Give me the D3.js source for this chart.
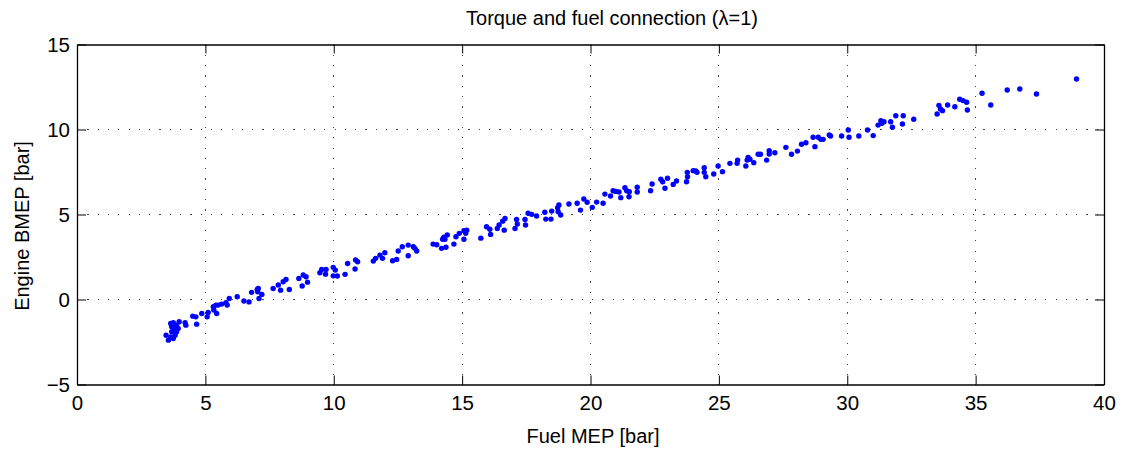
<!DOCTYPE html>
<html lang="en">
  <head>
    <meta charset="UTF-8" />
    <title>Torque and fuel connection</title>
    <style>
      body { margin: 0; background: #fff; }
      svg text { font-family: Arial, "Liberation Sans", Helvetica, sans-serif; fill: #000; }
    </style>
  </head>
  <body>
  <div id="chart"></div>
  <script src="https://d3js.org/d3.v7.min.js"></script>
  <script>

// fuel MEP [bar] (x) and engine BMEP [bar] (y)
var fuelMep = [
  3.47, 3.56, 3.65, 3.75, 3.82, 3.69, 3.78, 3.88, 3.94, 3.86, 3.65, 3.75, 3.98, 3.88, 3.69,
  4.21, 4.24, 4.51, 4.63, 4.66, 4.86, 5.11, 5.07, 5.31, 5.41, 5.50, 5.44, 5.33, 5.63, 5.80,
  5.85, 5.93, 6.24, 6.50, 6.70, 6.80, 7.02, 7.06, 7.09, 7.20, 7.04, 7.64, 7.84, 7.93, 8.03,
  8.14, 8.27, 8.64, 8.81, 8.92, 8.98, 8.77, 9.46, 9.53, 9.70, 9.68,
  9.98, 10.06, 9.98, 10.14, 10.44, 10.54, 10.83, 10.85, 10.93, 11.54, 11.63, 11.80, 11.90, 11.99,
  12.29, 12.45, 12.51, 12.67, 12.90, 12.90, 13.10, 13.16, 13.23, 13.87, 14.01, 14.20, 14.24, 14.29,
  14.37, 14.42, 14.33, 14.68, 14.76, 14.89, 15.07, 15.14, 15.18, 15.07, 15.73, 15.95, 16.08, 16.11,
  16.37, 16.44,
  16.58, 16.67, 16.64, 17.12, 17.15, 17.06, 17.45, 17.47, 17.57, 17.71, 17.90, 18.22, 18.26, 18.46,
  18.49, 18.72, 18.77, 18.74, 18.84, 19.16, 19.48, 19.61, 19.74, 19.87, 20.07, 20.24, 20.49, 20.56,
  20.78, 20.88, 20.99, 21.11, 21.18, 21.34, 21.41, 21.51, 21.50, 21.82, 21.82, 22.34, 22.40, 22.74,
  22.81, 22.90, 23.00,
  23.22, 23.35, 23.74, 23.77, 23.78, 24.00, 24.10, 24.15, 24.43, 24.43, 24.49, 24.80, 24.97, 25.14,
  25.43, 25.71, 25.73, 26.05, 26.10, 26.14, 26.21, 26.36, 26.53, 26.62, 26.86, 26.96, 26.96, 27.18,
  27.61, 27.83, 28.06, 28.22, 28.39, 28.67, 28.74, 28.87, 28.97, 29.06, 29.30, 29.35,
  29.78, 30.04, 30.07, 30.45, 30.79, 31.01, 31.20, 31.31, 31.34, 31.43, 31.69, 31.76, 31.89, 32.15,
  32.18, 32.59, 33.50, 33.57, 33.63, 33.71, 33.91, 34.19, 34.38, 34.51, 34.65, 34.68, 35.25, 35.59,
  36.23, 36.72, 37.37, 38.93
];
var bmep = [
  -2.10, -2.39, -2.20, -2.29, -2.10, -1.90, -1.80, -1.90, -1.70, -1.57, -1.41, -1.37, -1.31, -1.51, -1.61,
  -1.37, -1.51, -0.98, -1.02, -1.45, -0.82, -0.76, -1.02, -0.43, -0.33, -0.33, -0.82, -0.62, -0.27, -0.19,
  -0.33, 0.06, 0.16, -0.09, -0.14, 0.42, 0.59, 0.65, 0.06, 0.30, 0.45, 0.65, 0.85, 0.55, 1.04,
  1.18, 0.59, 1.24, 1.44, 1.34, 1.02, 0.79, 1.57, 1.77, 1.77, 1.49,
  1.89, 1.73, 1.39, 1.38, 1.48, 2.12, 1.79, 2.32, 2.22, 2.26, 2.42, 2.61, 2.42, 2.75,
  2.28, 2.36, 2.85, 3.10, 3.20, 2.57, 3.10, 3.01, 2.85, 3.26, 3.22, 3.01, 3.54, 3.66,
  3.07, 3.79, 3.54, 3.26, 3.69, 3.89, 4.04, 3.89, 4.08, 3.54, 3.61, 4.28, 4.13, 3.83,
  4.18, 4.38,
  4.61, 4.77, 4.08, 4.71, 4.44, 4.18, 4.71, 4.38, 5.07, 5.01, 4.91, 5.13, 4.73, 4.73,
  5.20, 5.40, 5.56, 5.16, 4.97, 5.62, 5.66, 5.26, 5.91, 5.72, 5.42, 5.73, 5.66, 6.20,
  6.09, 6.40, 6.36, 6.32, 5.99, 6.57, 6.40, 6.34, 6.04, 6.60, 6.32, 6.40, 6.79, 7.07,
  6.93, 6.54, 7.13,
  6.77, 6.97, 6.93, 7.48, 7.22, 7.58, 7.56, 7.48, 7.75, 7.48, 7.22, 7.38, 7.85, 7.52,
  8.01, 8.01, 8.20, 7.85, 8.20, 8.36, 8.25, 8.05, 8.54, 8.54, 8.20, 8.75, 8.56, 8.63,
  8.95, 8.54, 8.73, 9.13, 9.22, 9.54, 8.99, 9.54, 9.42, 9.42, 9.68, 9.62,
  9.62, 9.97, 9.54, 9.62, 9.97, 9.64, 10.26, 10.52, 10.36, 10.46, 10.46, 10.13, 10.81, 10.32,
  10.81, 10.60, 10.91, 11.42, 11.21, 11.11, 11.44, 11.34, 11.78, 11.70, 11.60, 11.15, 12.13, 11.44,
  12.32, 12.38, 12.09, 12.97
];
var xTicks = [0, 5, 10, 15, 20, 25, 30, 35, 40];
var yTicks = [-5, 0, 5, 10, 15];

var W = 1125, H = 449;
var margin = { top: 44.5, right: 21, bottom: 64.5, left: 77 };
var w = W - margin.left - margin.right;
var h = H - margin.top - margin.bottom;

var svg = d3.select("#chart").append("svg")
            .attr("width", W)
            .attr("height", H);

var g = svg.append("g")
           .attr("transform", "translate(" + margin.left + "," + margin.top + ")");

var x = d3.scaleLinear().domain([0, 40]).range([0, w]);
var y = d3.scaleLinear().domain([-5, 15]).range([h, 0]);

// dotted grid
g.append("g")
  .attr("class", "grid")
  .selectAll("line.gx")
  .data(xTicks.slice(1, -1))
  .enter()
  .append("line")
  .attr("x1", function(d) { return x(d); })
  .attr("x2", function(d) { return x(d); })
  .attr("y1", 0)
  .attr("y2", h);
g.select(".grid")
  .selectAll("line.gy")
  .data(yTicks.slice(1, -1))
  .enter()
  .append("line")
  .attr("x1", 0)
  .attr("x2", w)
  .attr("y1", function(d) { return y(d); })
  .attr("y2", function(d) { return y(d); });
g.selectAll(".grid line")
  .attr("stroke", "#444")
  .attr("stroke-width", 1)
  .attr("stroke-dasharray", "1.2,9.1")
  .attr("shape-rendering", "crispEdges");

// axes with inward ticks on all four sides
var tickLen = 9;
var bottom = g.append("g").attr("transform", "translate(0," + h + ")")
  .call(d3.axisBottom(x).tickValues(xTicks).tickSizeInner(-tickLen).tickSizeOuter(0).tickPadding(11));
var top = g.append("g")
  .call(d3.axisTop(x).tickValues(xTicks).tickSizeInner(-tickLen).tickSizeOuter(0).tickFormat(""));
var left = g.append("g")
  .call(d3.axisLeft(y).tickValues(yTicks).tickSizeInner(-tickLen).tickSizeOuter(0).tickPadding(7));
var right = g.append("g").attr("transform", "translate(" + w + ",0)")
  .call(d3.axisRight(y).tickValues(yTicks).tickSizeInner(-tickLen).tickSizeOuter(0).tickFormat(""));

g.selectAll(".domain").attr("stroke", "#000").attr("stroke-width", 1.3);
g.selectAll(".tick line").attr("stroke", "#000").attr("stroke-width", 1);
g.selectAll(".tick text")
  .style("font-size", "20.5px")
  .style("font-family", "Arial, 'Liberation Sans', sans-serif")
  .attr("fill", "#000");
left.selectAll(".tick text").text(function(d) { return d < 0 ? "\u2212" + Math.abs(d) : d; });

// data points
g.selectAll("circle")
  .data(fuelMep)
  .enter()
  .append("circle")
  .attr("cx", function(d) { return x(d); })
  .attr("cy", function(d, i) { return y(bmep[i]); })
  .attr("r", 2.7)
  .attr("fill", "#0000ff");

// titles
svg.append("text")
  .attr("x", 612)
  .attr("y", 25)
  .attr("text-anchor", "middle")
  .style("font-size", "20px")
  .text("Torque and fuel connection (\u03bb=1)");

svg.append("text")
  .attr("x", 593)
  .attr("y", 443)
  .attr("text-anchor", "middle")
  .style("font-size", "20px")
  .text("Fuel MEP [bar]");

svg.append("text")
  .attr("transform", "translate(29,226) rotate(-90)")
  .attr("text-anchor", "middle")
  .style("font-size", "20px")
  .text("Engine BMEP [bar]");

</script>
  </body>
</html>
